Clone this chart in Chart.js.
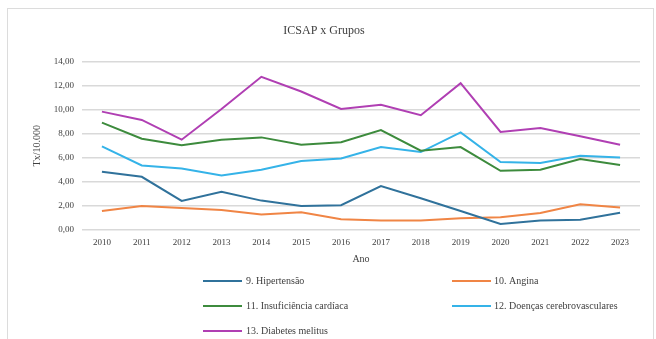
<!DOCTYPE html>
<html>
<head>
<meta charset="utf-8">
<script src="https://cdn.jsdelivr.net/npm/chart.js@4/dist/chart.umd.min.js"></script>
<style>
  html, body { margin: 0; padding: 0; background: #fff; }
  #wrap { position: relative; width: 656px; height: 339px; }
  canvas { display: block; }
</style>
</head>
<body>
<div id="wrap"><canvas id="c" width="656" height="339"></canvas></div>
<script>
const years = ['2010','2011','2012','2013','2014','2015','2016','2017','2018','2019','2020','2021','2022','2023'];
const hipertensao = [4.83,4.42,2.42,3.17,2.44,2.00,2.06,3.64,2.64,1.58,0.50,0.78,0.86,1.44];
const angina      = [1.58,2.00,1.83,1.67,1.28,1.47,0.89,0.78,0.78,0.97,1.06,1.42,2.14,1.86];
const insuficiencia = [8.92,7.58,7.03,7.50,7.69,7.08,7.28,8.30,6.58,6.89,4.92,5.00,5.89,5.39];
const cerebro     = [6.94,5.36,5.11,4.53,5.00,5.72,5.94,6.89,6.47,8.11,5.64,5.56,6.17,6.03];
const diabetes    = [9.83,9.14,7.50,10.05,12.72,11.50,10.05,10.39,9.53,12.19,8.14,8.47,7.78,7.08];
const seriesNames = ['9. Hipertensão','10. Angina','11. Insuficiência cardíaca','12. Doenças cerebrovasculares','13. Diabetes melitus'];
const seriesColors = ['#30729b','#f08545','#3d8b3d','#35b3e8','#b03fb3'];
const chartTitle = 'ICSAP x Grupos';
const yTitle = 'Tx/10.000';
const xTitle = 'Ano';

const SERIF = '"Liberation Serif", "Times New Roman", serif';
const allData = [hipertensao, angina, insuficiencia, cerebro, diabetes];

const frame = {
  id: 'frame',
  beforeDraw(chart) {
    const ctx = chart.ctx;
    ctx.save();
    ctx.strokeStyle = '#dcdcdc';
    ctx.lineWidth = 1;
    ctx.strokeRect(7.5, 8.5, 646, 400);
    ctx.restore();
  }
};

const gridLegend = {
  id: 'gridLegend',
  afterDraw(chart) {
    const ctx = chart.ctx;
    const cols = [{lx: 203, tx: 246}, {lx: 452, tx: 494}];
    const rows = [281, 306, 331];
    ctx.save();
    ctx.font = '10px ' + SERIF;
    ctx.textBaseline = 'middle';
    ctx.textAlign = 'left';
    chart.data.datasets.forEach((ds, i) => {
      const c = cols[i % 2], y = rows[Math.floor(i / 2)];
      ctx.strokeStyle = ds.borderColor;
      ctx.lineWidth = 2;
      ctx.beginPath();
      ctx.moveTo(c.lx, y);
      ctx.lineTo(c.lx + 39, y);
      ctx.stroke();
      ctx.fillStyle = '#404040';
      ctx.fillText(ds.label, c.tx, y);
    });
    ctx.restore();
  }
};

new Chart(document.getElementById('c'), {
  type: 'line',
  data: {
    labels: years,
    datasets: seriesNames.map((n, i) => ({
      label: n,
      data: allData[i],
      borderColor: seriesColors[i],
      backgroundColor: seriesColors[i],
      borderWidth: 2,
      pointRadius: 0,
      tension: 0,
      fill: false
    }))
  },
  options: {
    responsive: false,
    animation: false,
    layout: { padding: { left: 8, right: 16, top: 8, bottom: 69 } },
    plugins: {
      legend: { display: false },
      tooltip: { enabled: false },
      title: {
        display: true,
        text: chartTitle,
        color: '#404040',
        font: { family: SERIF, size: 12, weight: 'normal' },
        padding: { top: 16, bottom: 23 }
      }
    },
    scales: {
      x: {
        offset: true,
        grid: { display: false, drawTicks: false },
        border: { display: false },
        ticks: { color: '#404040', font: { family: SERIF, size: 9 }, padding: 7, maxRotation: 0, autoSkip: false },
        title: { display: true, text: xTitle, color: '#404040', font: { family: SERIF, size: 10 }, padding: { top: 0, bottom: 5 } },
        afterFit(s) { s.height = 40; }
      },
      y: {
        min: 0, max: 14,
        grid: { color: '#d9d9d9', lineWidth: 1.5, drawTicks: false },
        border: { display: false },
        ticks: {
          stepSize: 2,
          color: '#404040',
          font: { family: SERIF, size: 9 },
          padding: 8,
          callback: v => v.toFixed(2).replace('.', ',')
        },
        title: { display: true, text: yTitle, color: '#404040', font: { family: SERIF, size: 10 }, padding: { top: 23, bottom: 0 } },
        afterFit(s) { s.width = 74; }
      }
    }
  },
  plugins: [frame, gridLegend]
});
</script>
</body>
</html>
